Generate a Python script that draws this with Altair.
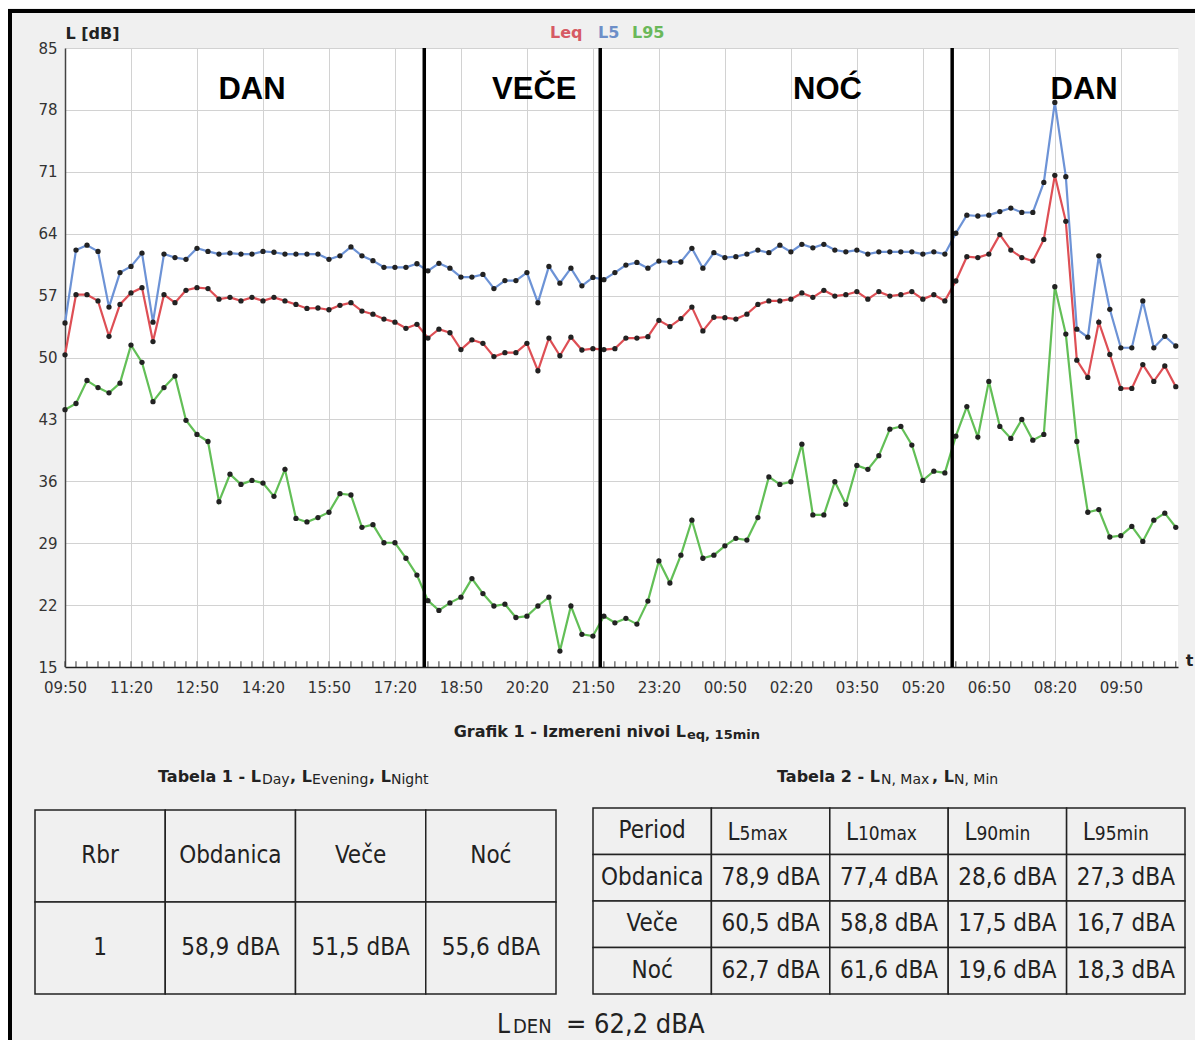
import altair as alt
import pandas as pd

# ---------------- data ----------------
START = pd.Timestamp("2024-01-15 09:50")
X_END = pd.Timestamp("2024-01-16 11:08")

leq = [50.3, 57.1, 57.1, 56.4, 52.4, 56.0, 57.3, 57.9, 51.8, 57.1,
       56.2, 57.6, 57.9, 57.8, 56.6, 56.8, 56.4, 56.8, 56.4, 56.8,
       56.4, 56.0, 55.55, 55.6, 55.4, 55.9, 56.2, 55.25, 54.9, 54.35,
       54.0, 53.3, 53.75, 52.2, 53.2, 52.8, 50.9, 52.0, 51.6, 50.1,
       50.55, 50.55, 51.6, 48.5, 52.2, 50.2, 52.3, 50.85, 51.0, 50.9,
       51.0, 52.2, 52.2, 52.35, 54.2, 53.5, 54.4, 55.7, 53.0, 54.55,
       54.5, 54.35, 54.9, 56.0, 56.4, 56.4, 56.6, 57.3, 56.8, 57.6,
       56.95, 57.1, 57.45, 56.6, 57.45, 56.95, 57.1, 57.45, 56.6, 57.1,
       56.4, 58.65, 61.4, 61.3, 61.7, 63.9, 62.15, 61.3, 60.9, 63.35,
       70.6, 65.4, 49.7, 47.75, 54.0, 50.35, 46.5, 46.5, 49.2, 47.3,
       49.05, 46.7]

l5 = [53.9, 62.15, 62.7, 62.0, 55.7, 59.6, 60.3, 61.8, 54.0, 61.7,
      61.3, 61.1, 62.35, 62.0, 61.7, 61.8, 61.7, 61.7, 62.0, 61.9,
      61.7, 61.7, 61.7, 61.7, 61.1, 61.5, 62.5, 61.5, 60.95, 60.2,
      60.2, 60.2, 60.6, 59.8, 60.65, 60.1, 59.1, 59.1, 59.4, 57.8,
      58.7, 58.7, 59.6, 56.2, 60.3, 58.4, 60.1, 58.1, 59.05, 58.8,
      59.6, 60.45, 60.75, 60.1, 60.9, 60.8, 60.8, 62.35, 60.1, 61.85,
      61.3, 61.4, 61.7, 62.15, 61.85, 62.7, 61.95, 62.8, 62.4, 62.8,
      62.15, 61.95, 62.15, 61.7, 61.95, 61.95, 61.95, 61.95, 61.7, 61.95,
      61.7, 64.05, 66.1, 66.0, 66.1, 66.5, 66.9, 66.4, 66.4, 69.8,
      78.85, 70.45, 53.2, 52.3, 61.5, 55.45, 51.1, 51.1, 56.4, 51.1,
      52.4, 51.3]

l95 = [44.1, 44.8, 47.4, 46.6, 46.0, 47.1, 51.4, 49.45, 45.0, 46.6,
       47.9, 42.9, 41.3, 40.5, 33.7, 36.8, 35.65, 36.1, 35.8, 34.3,
       37.35, 31.8, 31.4, 31.9, 32.5, 34.6, 34.45, 30.8, 31.1, 29.05,
       29.05, 27.3, 25.4, 22.5, 21.4, 22.25, 22.9, 25.0, 23.3, 21.9,
       22.1, 20.6, 20.75, 21.9, 22.9, 16.8, 21.9, 18.7, 18.5, 20.75,
       20.0, 20.5, 19.85, 22.45, 27.0, 24.5, 27.65, 31.6, 27.3, 27.65,
       28.7, 29.55, 29.35, 31.9, 36.5, 35.65, 35.95, 40.2, 32.2, 32.2,
       35.95, 33.4, 37.8, 37.35, 38.9, 41.9, 42.2, 40.1, 36.1, 37.15,
       36.95, 41.1, 44.45, 41.0, 47.3, 42.2, 40.85, 43.0, 40.65, 41.3,
       58.0, 52.65, 40.5, 32.5, 32.8, 29.7, 29.85, 30.9, 29.2, 31.6,
       32.4, 30.8]

series_names = ["L95", "Leq", "L5"]
series_colors = ["#63bf57", "#de4f55", "#6d93d6"]

y_ticks = [15, 22, 29, 36, 43, 50, 57, 64, 71, 78, 85]

period_bounds = ["2024-01-15T18:00:00", "2024-01-15T22:00:00", "2024-01-16T06:00:00"]
period_names = ["DAN", "VEČE", "NOĆ", "DAN"]
period_label_times = ["2024-01-15T14:05:00", "2024-01-15T20:30:00",
                      "2024-01-16T03:10:00", "2024-01-16T09:00:00"]
period_label_level = 80.2

legend_names = ["Leq", "L5", "L95"]
legend_colors = ["#d65a64", "#6d8fc8", "#6ab85a"]

t1_header = ["Rbr", "Obdanica", "Veče", "Noć"]
t1_values = ["1", "58,9 dBA", "51,5 dBA", "55,6 dBA"]

t2_first_header = "Period"
t2_header_sub = ["5max", "10max", "90min", "95min"]
t2_periods = ["Obdanica", "Veče", "Noć"]
t2_values = [["78,9 dBA", "77,4 dBA", "28,6 dBA", "27,3 dBA"],
             ["60,5 dBA", "58,8 dBA", "17,5 dBA", "16,7 dBA"],
             ["62,7 dBA", "61,6 dBA", "19,6 dBA", "18,3 dBA"]]

lden_value = "= 62,2 dBA"

# ---------------- layout / styles ----------------
W, H = 1113, 619
PAD = {"left": 57, "top": 40, "right": 17, "bottom": 373}
SANS = "DejaVu Sans"
COND = "DejaVu Sans Condensed, DejaVu Sans"
TXT = "#222222"

times = pd.date_range(START, periods=len(leq), freq="15min")
iso = [t.strftime("%Y-%m-%dT%H:%M:%S") for t in times]

rows = []
for name, vals in zip(["L95", "Leq", "L5"], [l95, leq, l5]):
    for t, v in zip(iso, vals):
        rows.append({"time": t, "value": v, "series": name})
df = pd.DataFrame(rows)
df_t = pd.DataFrame({"time": iso})


def dt(ts):
    return alt.DateTime(year=ts.year, month=ts.month, date=ts.day,
                        hours=ts.hour, minutes=ts.minute)


tick_values = [dt(t) for t in times[0:97:6]]

x_enc = alt.X(
    "time:T",
    scale=alt.Scale(domain=[dt(START), dt(X_END)]),
    axis=alt.Axis(values=tick_values, format="%H:%M", title="t", titleX=1124, titleY=-7,
                  titleAlign="center", titleBaseline="middle", titleFontSize=16,
                  titleFontWeight="bold", titleColor=TXT, titleFont=SANS,
                  labelFont=SANS, labelFontSize=15, labelColor="#333333",
                  labelPadding=13, labelFlush=False, labelOverlap=False,
                  ticks=False, grid=True, gridColor="#d2d2d2", gridWidth=1,
                  domainColor="#222222", domainWidth=1.5),
)
y_scale = alt.Scale(domain=[15, 85], nice=False, zero=False)
y_enc = alt.Y(
    "value:Q", scale=y_scale,
    axis=alt.Axis(values=y_ticks, title="L [dB]", titleAngle=0, titleX=0, titleY=-15,
                  titleAlign="left", titleBaseline="middle", titleFontSize=16,
                  titleFontWeight="bold", titleColor=TXT, titleFont=SANS,
                  labelFont=SANS, labelFontSize=15, labelColor="#333333",
                  labelPadding=8, labelFlush=False, ticks=False, grid=True,
                  gridColor="#d2d2d2", gridWidth=1, domainColor="#444444",
                  domainWidth=1.5),
)
color_enc = alt.Color("series:N", scale=alt.Scale(domain=series_names, range=series_colors),
                      legend=None)

lines = alt.Chart(df).mark_line(strokeWidth=2.2).encode(
    x=x_enc, y=y_enc, color=color_enc,
    order=alt.Order("time:T"))
points = alt.Chart(df).mark_circle(size=28, color="#222222", opacity=1).encode(
    x=x_enc, y=y_enc)

minor_ticks = alt.Chart(df_t).mark_rule(color="#333333", strokeWidth=1).encode(
    x=x_enc, y=alt.datum(15, scale=y_scale), y2=alt.datum(15.65))

bounds = alt.Chart(pd.DataFrame({"time": period_bounds})).mark_rule(
    color="black", strokeWidth=3.5).encode(x=x_enc)

plabels = alt.Chart(pd.DataFrame({"time": period_label_times, "label": period_names,
                                  "value": [period_label_level] * 4})).mark_text(
    font="Liberation Sans", fontWeight="bold", fontSize=31, color="black",
    baseline="middle", align="center").encode(x=x_enc, y=y_enc, text="label:N")

plot = alt.layer(minor_ticks, lines, points, bounds, plabels)

# ---------------- tables ----------------
# table 1
t1_cells = []
for r, row in enumerate([t1_header, t1_values]):
    for c, txt in enumerate(row):
        t1_cells.append({"c0": c, "c1": c + 1, "r0": r, "r1": r + 1,
                         "cx": c + 0.5, "cy": r + 0.5, "txt": txt})
t1_df = pd.DataFrame(t1_cells)
t1x = alt.Scale(domain=[0, 4], range=[-30, 491], nice=False, zero=False)
t1y = alt.Scale(domain=[0, 2], range=[762, 946], nice=False, zero=False)
t1_rect = alt.Chart(t1_df).mark_rect(fill="#f0f0f0", stroke="#222222", strokeWidth=1.5).encode(
    x=alt.X("c0:Q", scale=t1x, axis=None), x2="c1:Q",
    y=alt.Y("r0:Q", scale=t1y, axis=None), y2="r1:Q")
t1_text = alt.Chart(t1_df).mark_text(font=COND, fontSize=24, color=TXT,
                                     baseline="middle", align="center").encode(
    x=alt.X("cx:Q", scale=t1x, axis=None), y=alt.Y("cy:Q", scale=t1y, axis=None),
    text="txt:N")
table1 = alt.layer(t1_rect, t1_text)

# table 2
t2_rows = [[t2_first_header, "", "", "", ""]] + [[p] + v for p, v in zip(t2_periods, t2_values)]
t2_cells = []
for r, row in enumerate(t2_rows):
    for c, txt in enumerate(row):
        t2_cells.append({"c0": c, "c1": c + 1, "r0": r, "r1": r + 1,
                         "cx": c + 0.5, "cy": r + 0.5, "txt": txt})
t2_df = pd.DataFrame(t2_cells)
t2_head = pd.DataFrame({"cx": [c + 1.5 for c in range(4)], "cy": [0.5] * 4,
                        "L": ["L"] * 4, "sub": t2_header_sub})
t2x = alt.Scale(domain=[0, 5], range=[528, 1120], nice=False, zero=False)
t2y = alt.Scale(domain=[0, 4], range=[760, 946], nice=False, zero=False)
t2_rect = alt.Chart(t2_df).mark_rect(fill="#f0f0f0", stroke="#222222", strokeWidth=1.5).encode(
    x=alt.X("c0:Q", scale=t2x, axis=None), x2="c1:Q",
    y=alt.Y("r0:Q", scale=t2y, axis=None), y2="r1:Q")
t2_text = alt.Chart(t2_df).mark_text(font=COND, fontSize=24, color=TXT,
                                     baseline="middle", align="center").encode(
    x=alt.X("cx:Q", scale=t2x, axis=None), y=alt.Y("cy:Q", scale=t2y, axis=None),
    text="txt:N")
t2_L = alt.Chart(t2_head).mark_text(font=COND, fontSize=24, color=TXT, baseline="alphabetic",
                                    align="left", dx=-43, dy=9).encode(
    x=alt.X("cx:Q", scale=t2x, axis=None), y=alt.Y("cy:Q", scale=t2y, axis=None), text="L:N")
t2_sub = alt.Chart(t2_head).mark_text(font=COND, fontSize=19, color=TXT, baseline="alphabetic",
                                      align="left", dx=-31, dy=9).encode(
    x=alt.X("cx:Q", scale=t2x, axis=None), y=alt.Y("cy:Q", scale=t2y, axis=None), text="sub:N")
table2 = alt.layer(t2_rect, t2_text, t2_L, t2_sub)


# ---------------- text annotations (pixel offsets from plot origin) ----------------
def piece(txt, x, y, size, weight="normal", align="left", font=SANS, color=TXT,
          baseline="alphabetic"):
    return alt.Chart(pd.DataFrame({"t": [txt]})).mark_text(
        align=align, baseline=baseline, fontSize=size, fontWeight=weight, font=font,
        color=color).encode(x=alt.value(x), y=alt.value(y), text="t:N")


annots = []
# frame of the screenshot (top and left black border)
frame = pd.DataFrame({"k": [0]})
annots.append(alt.Chart(frame).mark_rule(color="black", strokeWidth=4).encode(
    x=alt.value(-PAD["left"]), x2=alt.value(W + PAD["right"]), y=alt.value(-37)))
annots.append(alt.Chart(frame).mark_rule(color="black", strokeWidth=4).encode(
    x=alt.value(-PAD["left"] + 2), y=alt.value(-39), y2=alt.value(H + PAD["bottom"])))
# legend
for name, col, px in zip(legend_names, legend_colors, [485, 533, 567]):
    annots.append(piece(name, px, -15, 16, "bold", color=col, baseline="middle"))
# figure caption
annots.append(piece("Grafik 1 - Izmereni nivoi L", 621, 689, 16, "bold", align="right"))
annots.append(piece("eq, 15min", 622, 691, 13, "bold"))
# table 1 caption
for txt, px, big in [("Tabela 1 - L", 93, True), ("Day", 197, False), (", L", 225, True),
                     ("Evening", 247, False), (", L", 304, True), ("Night", 326, False)]:
    if big:
        annots.append(piece(txt, px, 734, 16, "bold"))
    else:
        annots.append(piece(txt, px, 736, 14))
# table 2 caption
for txt, px, big in [("Tabela 2 - L", 712, True), ("N, Max", 816, False), (", L", 867, True),
                     ("N, Min", 889, False)]:
    if big:
        annots.append(piece(txt, px, 734, 16, "bold"))
    else:
        annots.append(piece(txt, px, 736, 14))
# L_DEN
annots.append(piece("L", 432, 985, 26, font=COND))
annots.append(piece("DEN", 448, 985, 20, font=COND))
annots.append(piece(lden_value, 501, 985, 27, font=COND))

chart = alt.layer(plot, table1, table2, *annots).resolve_scale(
    x="independent", y="independent"
).properties(
    width=W, height=H, background="#f0f0f0",
    padding=PAD,
    autosize=alt.AutoSizeParams(type="none"),
).configure_view(fill="white", stroke=None)

chart.save("out.html", embed_options={"renderer": "svg", "actions": False})
